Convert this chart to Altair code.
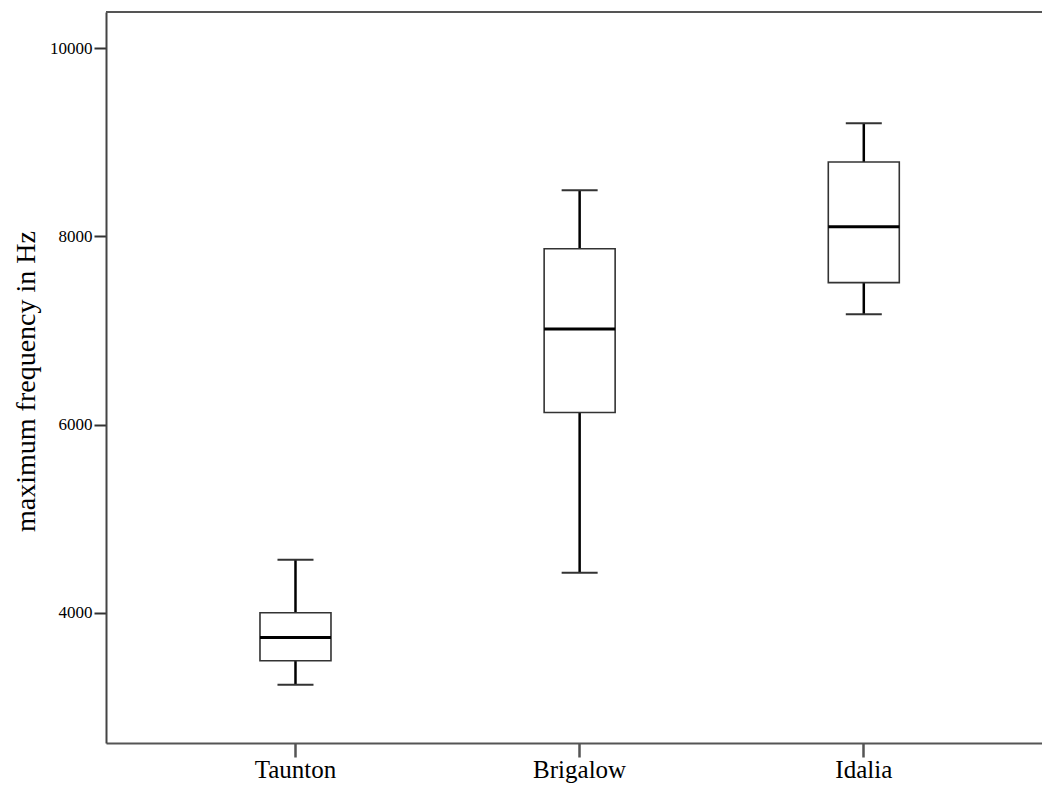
import altair as alt
import pandas as pd

groups = ["Taunton", "Brigalow", "Idalia"]
whisker_low = [3235, 4425, 7173]
q1 = [3490, 6129, 7509]
median = [3738, 7017, 8104]
q3 = [4000, 7870, 8792]
whisker_high = [4563, 8491, 9203]

y_ticks = [4000, 6000, 8000, 10000]
y_domain = [2616, 10386]

df = pd.DataFrame({
    "group": groups,
    "low": whisker_low,
    "q1": q1,
    "median": median,
    "q3": q3,
    "high": whisker_high,
})

W, H = 936, 731
FONT = "Liberation Serif"

xscale = alt.Scale(domain=groups, paddingInner=0.5, paddingOuter=0.397, align=0.525, round=False)
yscale = alt.Scale(domain=y_domain, nice=False, zero=False)

x_enc = alt.X(
    "group:N", scale=xscale, sort=groups, title=None,
    axis=alt.Axis(
        labelAngle=0, labelFont=FONT, labelFontSize=25, labelColor="black",
        labelPadding=0, tickSize=14, tickWidth=2.5, tickColor="#555",
        domainColor="#555", domainWidth=2, grid=False,
    ),
)
y_axis = alt.Axis(
    values=y_ticks, format="d", labelFont=FONT, labelFontSize=17, labelColor="black",
    labelPadding=2, tickSize=12, tickWidth=2, tickColor="#333",
    domainColor="#444", domainWidth=2, grid=False,
    title="maximum frequency in Hz", titleFont=FONT, titleFontSize=28,
    titleFontWeight="normal", titleColor="black", titleX=-66, titleY=369,
)

base = alt.Chart(df)

whisk = base.mark_rule(color="black", strokeWidth=2.5).encode(
    x=x_enc,
    y=alt.Y("low:Q", scale=yscale, axis=y_axis),
    y2="high:Q",
)
box = base.mark_bar(size=71, fill="white", stroke="#333", strokeWidth=1.6).encode(
    x=alt.X("group:N", scale=xscale, sort=groups),
    y=alt.Y("q1:Q", scale=yscale),
    y2="q3:Q",
)
med = base.mark_tick(size=71, thickness=3, color="black", opacity=1, orient="horizontal").encode(
    x=alt.X("group:N", scale=xscale, sort=groups),
    y=alt.Y("median:Q", scale=yscale),
)
cap_lo = base.mark_tick(size=36, thickness=2, color="#333", opacity=1, orient="horizontal").encode(
    x=alt.X("group:N", scale=xscale, sort=groups),
    y=alt.Y("low:Q", scale=yscale),
)
cap_hi = base.mark_tick(size=36, thickness=2, color="#333", opacity=1, orient="horizontal").encode(
    x=alt.X("group:N", scale=xscale, sort=groups),
    y=alt.Y("high:Q", scale=yscale),
)
top_line = base.mark_rule(color="#555", strokeWidth=2).encode(
    x=alt.value(0), x2=alt.value(W), y=alt.value(0),
)

chart = alt.layer(whisk, box, med, cap_lo, cap_hi, top_line).properties(
    width=W, height=H,
    autosize=alt.AutoSizeParams(type="none"),
    padding={"left": 98, "top": 4, "right": 0, "bottom": 42},
    background="white",
).configure_view(strokeWidth=0, stroke="transparent")

chart.save("out.html", embed_options={"renderer": "svg", "actions": False})
